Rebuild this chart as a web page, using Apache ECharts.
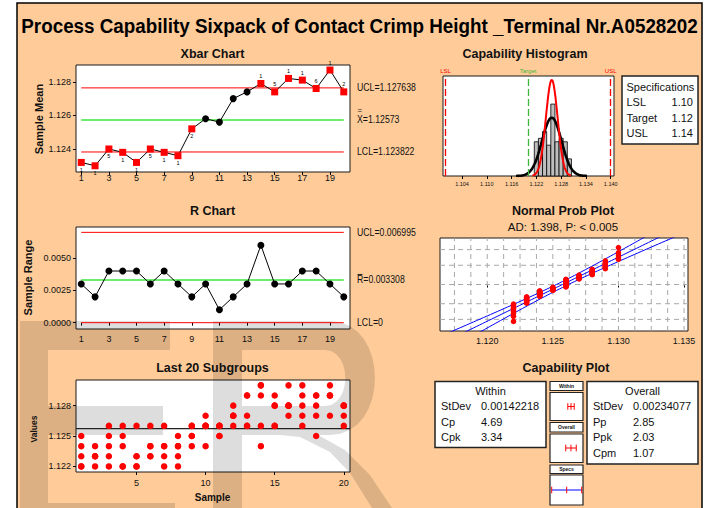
<!DOCTYPE html>
<html><head><meta charset="utf-8">
<script src="https://cdn.jsdelivr.net/npm/echarts@6/dist/echarts.min.js"></script>
<style>html,body{margin:0;padding:0;background:#fff;overflow:hidden}#c{width:709px;height:508px}</style>
</head><body><div id="c"></div>
<script>
// ---------------- data ----------------
const samples = [1,2,3,4,5,6,7,8,9,10,11,12,13,14,15,16,17,18,19,20];
const xbarValues = [1.1232,1.1230,1.1240,1.1238,1.1232,1.1240,1.1238,1.1236,1.1252,1.1258,1.1256,1.1270,1.1274,1.1279,1.1274,1.1282,1.1281,1.1276,1.1287,1.1274];
const xbarTests = ['1','1','5','1','1','5','1','1','2','','','','','1','5','1','1','6','1','2'];
const rangeValues = [0.003,0.002,0.004,0.004,0.004,0.003,0.004,0.003,0.002,0.003,0.001,0.002,0.003,0.006,0.003,0.003,0.004,0.004,0.003,0.002];
const subgroups = [
 [1.122,1.122,1.123,1.124,1.125],[1.122,1.123,1.123,1.123,1.124],[1.122,1.123,1.124,1.125,1.126],
 [1.122,1.122,1.124,1.125,1.126],[1.122,1.122,1.123,1.123,1.126],[1.123,1.123,1.124,1.124,1.126],
 [1.122,1.123,1.124,1.124,1.126],[1.122,1.123,1.124,1.124,1.125],[1.124,1.125,1.125,1.126,1.126],
 [1.124,1.126,1.126,1.126,1.127],[1.125,1.125,1.126,1.126,1.126],[1.126,1.127,1.127,1.127,1.128],
 [1.126,1.126,1.127,1.129,1.129],[1.124,1.126,1.129,1.130,1.130],[1.126,1.126,1.128,1.128,1.129],
 [1.127,1.128,1.128,1.128,1.130],[1.126,1.127,1.128,1.129,1.130],[1.125,1.127,1.128,1.129,1.129],
 [1.127,1.129,1.129,1.129,1.130],[1.126,1.127,1.128,1.128,1.128]
];
const xbarUCL = 1.127638, xbarCL = 1.12573, xbarLCL = 1.123822;
const rUCL = 0.006995, rCL = 0.003308, rLCL = 0;
const LSL = 1.10, TARGET = 1.12, USL = 1.14;
const stdevWithin = 0.00142218, stdevOverall = 0.00234077;
const cp = 4.69, cpk = 3.34, pp = 2.85, ppk = 2.03, cpm = 1.07;
const adText = 'AD: 1.398, P: < 0.005';
const histBinWidth = 0.001;
const xbarTickLabels = [1,3,5,7,9,11,13,15,17,19];
const xbarYTicks = [1.124,1.126,1.128];
const rYTicks = [0,0.0025,0.005];
const last20XTicks = [5,10,15,20];
const last20YTicks = [1.122,1.125,1.128];
const histXTicks = [1.104,1.110,1.116,1.122,1.128,1.134,1.140];
const normXTicks = [1.120,1.125,1.130,1.135];
const normGridX = [1.1175,1.11875,1.12,1.12125,1.1225,1.12375,1.125,1.12625,1.1275,1.12875,1.13,1.13125,1.1325,1.13375,1.135];
const normGridPct = [1,10,50,90,99];

// ---------------- helpers ----------------
const FONT = "'Liberation Sans', Arial, Helvetica, sans-serif";
const RED = '#FF0000', GREEN = '#3CE63C', BLUE = '#0000FF';
function invNorm(p){
  const a=[-3.969683028665376e+01,2.209460984245205e+02,-2.759285104469687e+02,1.383577518672690e+02,-3.066479806614716e+01,2.506628277459239e+00];
  const b=[-5.447609879822406e+01,1.615858368580409e+02,-1.556989798598866e+02,6.680131188771972e+01,-1.328068155288572e+01];
  const c=[-7.784894002430293e-03,-3.223964580411365e-01,-2.400758277161838e+00,-2.549732539343734e+00,4.374664141464968e+00,2.938163982698783e+00];
  const d=[7.784695709041462e-03,3.224671290700398e-01,2.445134137142996e+00,3.754408661907416e+00];
  const pl=0.02425; let q,r;
  if(p<pl){q=Math.sqrt(-2*Math.log(p));return (((((c[0]*q+c[1])*q+c[2])*q+c[3])*q+c[4])*q+c[5])/((((d[0]*q+d[1])*q+d[2])*q+d[3])*q+1);}
  if(p<=1-pl){q=p-0.5;r=q*q;return (((((a[0]*r+a[1])*r+a[2])*r+a[3])*r+a[4])*r+a[5])*q/(((((b[0]*r+b[1])*r+b[2])*r+b[3])*r+b[4])*r+1);}
  q=Math.sqrt(-2*Math.log(1-p));return -(((((c[0]*q+c[1])*q+c[2])*q+c[3])*q+c[4])*q+c[5])/((((d[0]*q+d[1])*q+d[2])*q+d[3])*q+1);
}
const allValues = subgroups.flat();
const N = allValues.length;
const mean = xbarCL;
const histMin = Math.min(...allValues), histMax = Math.max(...allValues);
const histBins = [];
for (let k = 0; k <= Math.round((histMax - histMin) / histBinWidth); k++) {
  const center = +(histMin + k * histBinWidth).toFixed(6);
  const count = allValues.filter(v => Math.abs(v - center) < histBinWidth / 2).length;
  histBins.push([center, count / (N * histBinWidth)]);
}
function pdfCurve(sd, span){
  const pts = [];
  for (let i = 0; i <= 160; i++) {
    const z = -span + 2 * span * i / 160;
    pts.push([mean + z * sd, Math.exp(-0.5 * z * z) / (sd * Math.sqrt(2 * Math.PI))]);
  }
  return pts;
}
const sorted = allValues.slice().sort((a, b) => a - b);
const probPts = sorted.map((v, i) => [v, invNorm((i + 1 - 0.3) / (N + 0.4))]);
const fitLine = [], ciLo = [], ciHi = [];
for (let i = 0; i <= 80; i++) {
  const z = -4 + 8 * i / 80;
  const half = 1.96 * stdevOverall * Math.sqrt(1 / N + z * z / (2 * (N - 1)));
  fitLine.push([mean + z * stdevOverall, z]);
  ciLo.push([mean + z * stdevOverall - half, z]);
  ciHi.push([mean + z * stdevOverall + half, z]);
}
const normGridZ = normGridPct.map(p => invNorm(p / 100));
const NZ = 3.1;

const mctx = document.createElement('canvas').getContext('2d');
function textW(t, font){ mctx.font = font; return mctx.measureText(t).width; }

function gridBox(left, top, width, height){
  return {left, top, width, height, show: true, backgroundColor: '#fff', borderColor: '#1a1a1a', borderWidth: 1, containLabel: false};
}
function vAxis(gi, min, max, ticks, fmt, fs, margin){
  return {
    gridIndex: gi, type: 'value', min, max, scale: false,
    axisLine: {show: false}, splitLine: {show: false},
    axisTick: ticks ? {show: true, customValues: ticks, length: 3, lineStyle: {color: '#000'}} : {show: false},
    axisLabel: ticks ? {show: true, customValues: ticks, formatter: fmt, fontSize: fs, margin, color: '#111', fontFamily: FONT} : {show: false}
  };
}
const ctrlLine = (xi, v, color, width) => ({
  type: 'line', xAxisIndex: xi, yAxisIndex: xi, data: [[samples[0], v], [samples[samples.length - 1], v]],
  showSymbol: false, symbol: 'none', silent: true, z: 1, lineStyle: {color, width}
});
function gridLineSeries(data, vertical){
  return {
    type: 'custom', xAxisIndex: 4, yAxisIndex: 4, z: 1, silent: true, data,
    renderItem: (params, api) => {
      const a = vertical ? api.coord([api.value(0), -NZ]) : api.coord([1.1164, api.value(1)]);
      const b = vertical ? api.coord([api.value(0), NZ]) : api.coord([1.1353, api.value(1)]);
      return {type: 'line', shape: {x1: a[0], y1: a[1], x2: b[0], y2: b[1]}, style: {stroke: '#A8A8A8', lineWidth: 1, lineDash: [5, 4]}};
    }
  };
}

const option = {
  animation: false,
  grid: [gridBox(76, 65, 274, 107), gridBox(76, 227, 274, 102), gridBox(76, 380, 274, 92),
         gridBox(443, 76, 171, 100), gridBox(440, 238, 248, 93)],
  xAxis: [
    vAxis(0, 0.62, 20.45, xbarTickLabels, v => String(v), 9, 1),
    vAxis(1, 0.62, 20.45, xbarTickLabels, v => String(v), 9, 5),
    vAxis(2, 0.62, 20.45, last20XTicks, v => String(v), 9, 6),
    vAxis(3, 1.0994, 1.1408, histXTicks, v => v.toFixed(3), 5.5, 5),
    vAxis(4, 1.1164, 1.1353, normXTicks, v => v.toFixed(3), 9, 5)
  ],
  yAxis: [
    vAxis(0, 1.12263, 1.129, xbarYTicks, v => v.toFixed(3), 9, 5),
    vAxis(1, -0.00049, 0.00741, rYTicks, v => v.toFixed(4), 9, 5),
    vAxis(2, 1.12145, 1.13053, last20YTicks, v => v.toFixed(3), 9, 5),
    vAxis(3, 0, 292, null),
    vAxis(4, -NZ, NZ, null)
  ],
  series: [
    ctrlLine(0, xbarUCL, RED, 1), ctrlLine(0, xbarCL, GREEN, 1.6), ctrlLine(0, xbarLCL, RED, 1),
    {
      type: 'line', xAxisIndex: 0, yAxisIndex: 0, z: 3,
      lineStyle: {color: '#000', width: 1},
      data: samples.map((s, i) => {
        const out = xbarTests[i] !== '';
        return {value: [s, xbarValues[i]], symbol: out ? 'rect' : 'circle', symbolSize: 7,
          itemStyle: {color: out ? RED : '#000'},
          label: {show: out, formatter: xbarTests[i], position: xbarValues[i] < xbarCL ? 'bottom' : 'top', distance: 1, fontSize: 5.5, color: '#000', fontFamily: FONT}};
      })
    },
    ctrlLine(1, rUCL, RED, 1), ctrlLine(1, rCL, GREEN, 1.6), ctrlLine(1, rLCL, RED, 1),
    {
      type: 'line', xAxisIndex: 1, yAxisIndex: 1, z: 3, symbol: 'circle', symbolSize: 7,
      lineStyle: {color: '#000', width: 1}, itemStyle: {color: '#000'},
      data: samples.map((s, i) => [s, rangeValues[i]])
    },
    {
      type: 'line', xAxisIndex: 2, yAxisIndex: 2, data: [[0.62, mean], [20.45, mean]], showSymbol: false, symbol: 'none', z: 1,
      lineStyle: {color: '#222', width: 1.2}
    },
    {
      type: 'scatter', xAxisIndex: 2, yAxisIndex: 2, z: 3, symbolSize: 6.5, itemStyle: {color: RED, opacity: 1},
      data: subgroups.flatMap((g, i) => g.map(v => [samples[i], v]))
    },
    {
      type: 'custom', xAxisIndex: 3, yAxisIndex: 3, z: 2, data: histBins,
      renderItem: (params, api) => {
        const c = api.value(0), h = api.value(1);
        const p0 = api.coord([c - histBinWidth / 2, 0]), p1 = api.coord([c + histBinWidth / 2, h]);
        return {type: 'rect', shape: {x: p0[0], y: p1[1], width: p1[0] - p0[0], height: p0[1] - p1[1]},
          style: {fill: '#BEBEBE', stroke: '#000', lineWidth: 0.8}};
      }
    },
    {
      type: 'line', xAxisIndex: 3, yAxisIndex: 3, z: 3, showSymbol: false, symbol: 'none',
      data: pdfCurve(stdevOverall, 3.7), lineStyle: {color: '#000', width: 2.6}
    },
    {
      type: 'line', xAxisIndex: 3, yAxisIndex: 3, z: 4, showSymbol: false, symbol: 'none',
      data: pdfCurve(stdevWithin, 3.3), lineStyle: {color: RED, width: 2},
      markLine: {
        silent: true, symbol: ['none', 'none'], animation: false,
        label: {show: true, position: 'end', distance: 2, fontSize: 6, fontFamily: FONT},
        data: [
          {xAxis: LSL, lineStyle: {color: RED, width: 1.3, type: [7, 3]}, label: {formatter: 'LSL', color: RED}},
          {xAxis: TARGET, lineStyle: {color: '#3CB83C', width: 1.3, type: [7, 3]}, label: {formatter: 'Target', color: '#3CB83C'}},
          {xAxis: USL, lineStyle: {color: RED, width: 1.3, type: [7, 3]}, label: {formatter: 'USL', color: RED}}
        ]
      }
    },
    gridLineSeries(normGridX.map(v => [v, 0]), true),
    gridLineSeries(normGridZ.map(z => [1.125, z]), false),
    {type: 'line', xAxisIndex: 4, yAxisIndex: 4, z: 3, showSymbol: false, symbol: 'none', data: fitLine, lineStyle: {color: BLUE, width: 1}},
    {type: 'line', xAxisIndex: 4, yAxisIndex: 4, z: 3, showSymbol: false, symbol: 'none', data: ciLo, lineStyle: {color: BLUE, width: 1}},
    {type: 'line', xAxisIndex: 4, yAxisIndex: 4, z: 3, showSymbol: false, symbol: 'none', data: ciHi, lineStyle: {color: BLUE, width: 1}},
    {type: 'scatter', xAxisIndex: 4, yAxisIndex: 4, z: 4, symbolSize: 5.5, itemStyle: {color: RED, opacity: 1}, data: probPts}
  ]
};

const chart = echarts.init(document.getElementById('c'), null, {renderer: 'svg'});
chart.setOption(option);

// ---------------- graphic layer ----------------
const yPix = (ai, v) => chart.convertToPixel({yAxisIndex: ai}, v);
function T(x, y, text, o){
  o = o || {};
  const font = (o.bold ? 'bold ' : '') + (o.size || 11) + 'px ' + FONT;
  let sx = 1;
  if (o.fitW) sx = o.fitW / textW(o.fitRef || text, font);
  if (o.sx) sx = o.sx;
  return {type: 'text', x, y, z: 6, scaleX: sx, scaleY: 1, rotation: o.rot || 0, silent: true,
    style: {text, font, fill: o.color || '#111', textAlign: o.align || 'left', align: o.align || 'left',
      textVerticalAlign: 'middle', verticalAlign: 'middle'}};
}
function R(x, y, w, h, o){
  o = o || {};
  return {type: 'rect', z: o.z == null ? 5 : o.z, silent: true, shape: {x, y, width: w, height: h},
    style: {fill: o.fill || '#fff', stroke: o.stroke || '#222', lineWidth: o.lw || 1.5}};
}
function L(x1, y1, x2, y2, color, lw){
  return {type: 'line', z: 7, silent: true, shape: {x1, y1, x2, y2}, style: {stroke: color, lineWidth: lw || 1}};
}
function bez(p0, p1, p2, p3, n){
  const pts = [];
  for (let i = 0; i <= n; i++) {
    const t = i / n, u = 1 - t;
    pts.push([u*u*u*p0[0] + 3*u*u*t*p1[0] + 3*u*t*t*p2[0] + t*t*t*p3[0],
              u*u*u*p0[1] + 3*u*u*t*p1[1] + 3*u*t*t*p2[1] + t*t*t*p3[1]]);
  }
  return pts;
}
const WM = 'rgba(0,0,0,0.135)';
const poly = pts => ({type: 'polygon', z: 1, silent: true, shape: {points: pts}, style: {fill: WM, stroke: 'none'}});
const g = [];
g.push(R(17, 3, 685, 520, {fill: '#FFCC99', stroke: '#000', lw: 1.5, z: -10}));
// watermark "E"
g.push(poly([[20,321],[170,321],[170,350],[48,350],[48,406],[163,406],[163,435],[48,435],[48,503],[175,503],[175,530],[20,530]]));
// watermark "R"
g.push(poly([[213,321],[242,321],[242,530],[213,530]]));
g.push(poly([[242,321],[330,321]].concat(bez([330,321],[390,321],[390,435],[330,435],16))
  .concat([[242,435],[242,406],[325,406]]).concat(bez([325,406],[352,406],[352,350],[325,350],12)).concat([[242,350]])));
g.push(poly([[280,435],[300,437],[330,452],[350,473],[372,508],[380,530],[405,530],[392,508],[370,475],[345,450],[318,435]]));

// main title
const titleText = 'Process Capability Sixpack of Contact Crimp Height _Terminal Nr.A0528202';
g.push(T(359.5, 26, titleText, {bold: true, size: 19.5, align: 'center', fitW: 677, color: '#000'}));
// panel titles
g.push(T(212.5, 54, 'Xbar Chart', {bold: true, size: 12.5, align: 'center'}));
g.push(T(212.5, 211, 'R Chart', {bold: true, size: 12.5, align: 'center'}));
g.push(T(212.5, 368, 'Last 20 Subgroups', {bold: true, size: 12.5, align: 'center'}));
g.push(T(525, 54, 'Capability Histogram', {bold: true, size: 12.5, align: 'center'}));
g.push(T(563, 211, 'Normal Prob Plot', {bold: true, size: 12.5, align: 'center'}));
g.push(T(563, 227, adText, {size: 11.5, align: 'center'}));
g.push(T(566, 368, 'Capability Plot', {bold: true, size: 12.5, align: 'center'}));
// axis names
g.push(T(39, 119, 'Sample Mean', {bold: true, size: 11, align: 'center', rot: Math.PI / 2}));
g.push(T(27.5, 277.5, 'Sample Range', {bold: true, size: 11, align: 'center', rot: Math.PI / 2}));
g.push(T(33.5, 429, 'Values', {bold: true, size: 8.5, align: 'center', rot: Math.PI / 2}));
g.push(T(212.5, 497.5, 'Sample', {bold: true, size: 10, align: 'center'}));
// control limit labels
const labSx = 59 / textW('UCL=' + xbarUCL, '10px ' + FONT);
const yU = yPix(0, xbarUCL), yC = yPix(0, xbarCL), yL = yPix(0, xbarLCL);
g.push(T(357, yU, 'UCL=' + xbarUCL, {size: 10, sx: labSx}));
g.push(T(357.5, yC - 10, '=', {size: 9, sx: labSx}));
g.push(T(357, yC, 'X=' + xbarCL, {size: 10, sx: labSx}));
g.push(T(357, yL, 'LCL=' + xbarLCL, {size: 10, sx: labSx}));
const rU = yPix(1, rUCL), rC = yPix(1, rCL), rL = yPix(1, rLCL);
g.push(T(357, rU, 'UCL=' + rUCL, {size: 10, sx: labSx}));
g.push(T(357, rC, 'R=' + rCL, {size: 10, sx: labSx}));
g.push(L(357.5, rC - 5.5, 362.5, rC - 5.5, '#111', 0.9));
g.push(T(357, rL, 'LCL=' + rLCL, {size: 10, sx: labSx}));
// specifications box
g.push(R(622, 76, 76, 68));
g.push(T(626.5, 86.5, 'Specifications', {size: 11}));
g.push(T(626.5, 102, 'LSL', {size: 11}));   g.push(T(693, 102, LSL.toFixed(2), {size: 11, align: 'right'}));
g.push(T(626.5, 117.5, 'Target', {size: 11})); g.push(T(693, 117.5, TARGET.toFixed(2), {size: 11, align: 'right'}));
g.push(T(626.5, 133, 'USL', {size: 11}));   g.push(T(693, 133, USL.toFixed(2), {size: 11, align: 'right'}));
// within box
g.push(R(435, 381.5, 111, 66));
g.push(T(490.5, 390.5, 'Within', {size: 11, align: 'center'}));
g.push(T(441, 406, 'StDev', {size: 11})); g.push(T(481, 406, String(stdevWithin), {size: 11}));
g.push(T(441, 421.5, 'Cp', {size: 11}));  g.push(T(481, 421.5, cp.toFixed(2), {size: 11}));
g.push(T(441, 437, 'Cpk', {size: 11})); g.push(T(481, 437, cpk.toFixed(2), {size: 11}));
// overall box
g.push(R(587, 381.5, 111, 82.5));
g.push(T(642.5, 390.5, 'Overall', {size: 11, align: 'center'}));
g.push(T(593, 406, 'StDev', {size: 11})); g.push(T(633, 406, String(stdevOverall), {size: 11}));
g.push(T(593, 421.7, 'Pp', {size: 11}));  g.push(T(633, 421.7, pp.toFixed(2), {size: 11}));
g.push(T(593, 437.3, 'Ppk', {size: 11})); g.push(T(633, 437.3, ppk.toFixed(2), {size: 11}));
g.push(T(593, 453.3, 'Cpm', {size: 11})); g.push(T(633, 453.3, cpm.toFixed(2), {size: 11}));
// capability plot middle column
const cx0 = 551.7, cxW = 30;
const cmap = v => cx0 + (v - LSL) / (USL - LSL) * cxW;
g.push(R(550, 381.5, 33, 9, {lw: 1.2}));  g.push(T(566.5, 386, 'Within', {size: 5, bold: true, align: 'center'}));
g.push(R(550, 392.5, 33, 28, {lw: 1.2}));
g.push(R(550, 422.5, 33, 9.5, {lw: 1.2})); g.push(T(566.5, 427.3, 'Overall', {size: 5, bold: true, align: 'center'}));
g.push(R(550, 434, 33, 28.5, {lw: 1.2}));
g.push(R(550, 465, 33, 8.5, {lw: 1.2}));  g.push(T(566.5, 469.3, 'Specs', {size: 5, bold: true, align: 'center'}));
g.push(R(550, 475, 33, 30, {lw: 1.2}));
function interval(y, lo, mid, hi, lineColor){
  g.push(L(cmap(lo), y, cmap(hi), y, lineColor, 1));
  [lo, mid, hi].forEach(v => g.push(L(cmap(v), y - 3.3, cmap(v), y + 3.3, RED, 1)));
}
interval(406.5, mean - 3 * stdevWithin, mean, mean + 3 * stdevWithin, RED);
interval(448, mean - 3 * stdevOverall, mean, mean + 3 * stdevOverall, RED);
interval(490, LSL, TARGET, USL, BLUE);

chart.setOption({graphic: {elements: g}});
</script>
</body></html>
